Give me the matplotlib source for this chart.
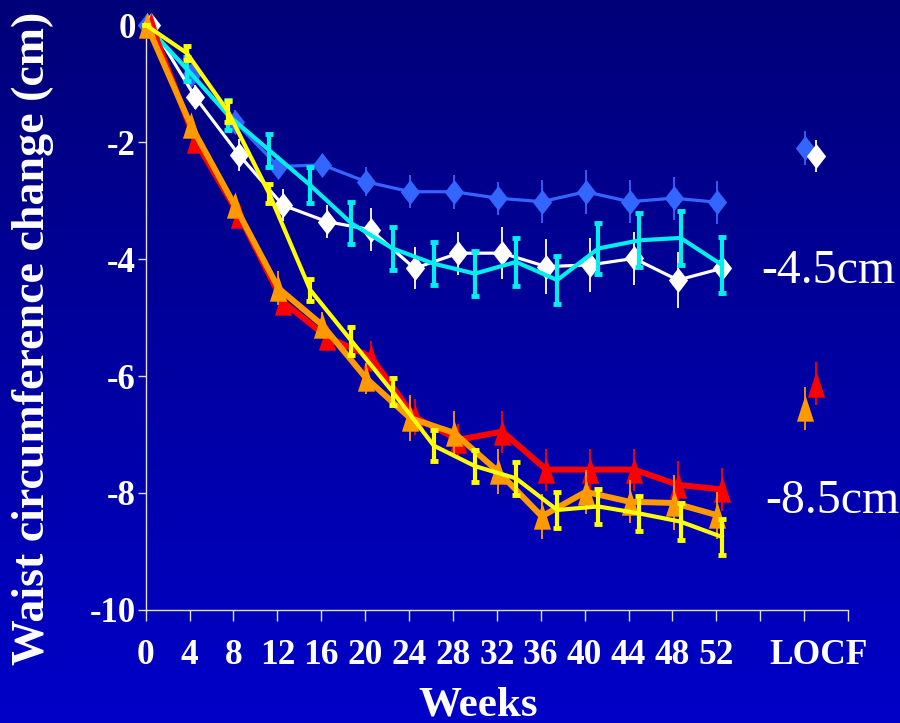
import numpy as np
import matplotlib

matplotlib.use("Agg")
import matplotlib.pyplot as plt
from matplotlib.path import Path
from matplotlib.colors import LinearSegmentedColormap

# visit weeks for the two main trials and the pooled comparison trial
weeks = [0, 4, 8, 12, 16, 20, 24, 28, 32, 36, 40, 44, 48, 52]
weeks_alt = [0, 3.75, 7.5, 11.25, 15, 18.75, 22.5, 26.25, 30, 33.75,
             37.5, 41.25, 45, 48.75, 52.5]

blue = [0, -0.85, -1.65, -2.42, -2.39, -2.68, -2.85, -2.85, -2.96, -3.02,
        -2.85, -3.02, -2.96, -3.03]
blue_err = [0, 0.15, 0.20, 0.17, 0.19, 0.25, 0.28, 0.29, 0.28, 0.37,
            0.38, 0.37, 0.37, 0.37]
white = [0, -1.23, -2.22, -3.08, -3.36, -3.50, -4.16, -3.90, -3.90, -4.13,
         -4.10, -3.99, -4.36, -4.16]
white_err = [0, 0.20, 0.27, 0.27, 0.28, 0.37, 0.36, 0.37, 0.45, 0.47,
             0.46, 0.46, 0.48, 0.48]
red = [0, -1.97, -3.25, -4.73, -5.33, -5.67, -6.70, -7.09, -6.95, -7.60,
       -7.60, -7.60, -7.86, -7.94]
red_err = [0, 0.15, 0.17, 0.16, 0.18, 0.26, 0.30, 0.27, 0.36, 0.36,
           0.36, 0.36, 0.40, 0.37]
orange = [0, -1.71, -3.08, -4.50, -5.13, -6.04, -6.72, -6.97, -7.63, -8.40,
          -7.98, -8.15, -8.17, -8.38]
orange_err = [0, 0.15, 0.18, 0.29, 0.22, 0.27, 0.39, 0.38, 0.38, 0.38,
              0.38, 0.37, 0.47, 0.40]
cyan = [0, -0.75, -1.54, -2.14, -2.74, -3.39, -3.82, -4.08, -4.25, -4.05,
        -4.36, -3.82, -3.68, -3.64, -4.10]
cyan_err = [0, 0.20, 0.26, 0.28, 0.31, 0.36, 0.36, 0.37, 0.38, 0.41,
            0.41, 0.44, 0.46, 0.46, 0.48]
yellow = [0, -0.48, -1.48, -2.88, -4.53, -5.40, -6.27, -7.19, -7.54, -7.75,
          -8.29, -8.23, -8.35, -8.49, -8.75]
yellow_err = [0, 0.12, 0.18, 0.17, 0.19, 0.24, 0.23, 0.26, 0.28, 0.28,
              0.30, 0.30, 0.30, 0.32, 0.31]

# last observation carried forward
locf_blue, locf_blue_err = -2.11, 0.29
locf_white, locf_white_err = -2.24, 0.28
locf_orange, locf_orange_err = -6.55, 0.37
locf_red, locf_red_err = -6.13, 0.37

tick_weeks = [0, 4, 8, 12, 16, 20, 24, 28, 32, 36, 40, 44, 48, 52, 56, 60, 64]
tick_labels = ["0", "4", "8", "12", "16", "20", "24", "28", "32", "36",
               "40", "44", "48", "52", "", "", ""]

plt.rcParams["font.family"] = ["Liberation Serif", "DejaVu Serif"]

DIAMOND = Path([(0, 1), (0.77, 0), (0, -1), (-0.77, 0), (0, 1)],
               [Path.MOVETO, Path.LINETO, Path.LINETO, Path.LINETO, Path.CLOSEPOLY])
TRIANGLE = Path([(0, 1), (0.65, -1), (-0.65, -1), (0, 1)],
                [Path.MOVETO, Path.LINETO, Path.LINETO, Path.CLOSEPOLY])

fig = plt.figure(figsize=(9, 7.23), dpi=100)

# vertical blue gradient background
bg = fig.add_axes([0, 0, 1, 1], zorder=-10)
cmap = LinearSegmentedColormap.from_list("bg", ["#000078", "#0000C8"])
bg.imshow(np.linspace(0, 1, 256).reshape(-1, 1), aspect="auto", cmap=cmap,
          extent=[0, 1, 0, 1])
bg.axis("off")

ax = fig.add_axes([0.1619, 0.1563, 0.7803, 0.8091])
ax.set_facecolor("none")

wk = np.array(weeks, dtype=float)


def thin_series(x, y, err, color, marker, ms, lw, z):
    ax.errorbar(x, y, yerr=err, color=color, ecolor=color, lw=lw,
                marker=marker, ms=ms, mew=0, elinewidth=1.3, capsize=6,
                capthick=1.3, clip_on=False, zorder=z)


def thick_series(x, y, err, color, z):
    ax.errorbar(x, y, yerr=err, color=color, ecolor=color, lw=3,
                elinewidth=3, capsize=2.8, capthick=3.5, clip_on=False,
                zorder=z)


thin_series(wk + 0.1, blue, blue_err, "#3366FF", DIAMOND, 18, 2.3, 3)
thin_series(wk + 0.5, white, white_err, "white", DIAMOND, 18, 2.3, 4)
thick_series(weeks_alt, cyan, cyan_err, "#00EEEE", 5)
thin_series(wk + 0.5, red, red_err, "#FF0000", TRIANGLE, 19, 4.3, 6)
thin_series(wk + 0.1, orange, orange_err, "#FF9900", TRIANGLE, 19, 4.3, 7)
thick_series(weeks_alt, yellow, yellow_err, "#FFFF00", 8)

thin_series([60.1], [locf_blue], [locf_blue_err], "#3366FF", DIAMOND, 18, 0, 3)
thin_series([61.1], [locf_white], [locf_white_err], "white", DIAMOND, 18, 0, 4)
thin_series([61.1], [locf_red], [locf_red_err], "#FF0000", TRIANGLE, 19, 0, 6)
thin_series([60.1], [locf_orange], [locf_orange_err], "#FF9900", TRIANGLE, 19, 0, 7)

ax.set_xlim(0, 64)
ax.set_ylim(-10, 0)
for side in ("top", "right"):
    ax.spines[side].set_visible(False)
for side in ("left", "bottom"):
    ax.spines[side].set_color("#E0E0F0")
    ax.spines[side].set_linewidth(1)

ax.set_yticks([0, -2, -4, -6, -8, -10], ["0", "-2", "-4", "-6", "-8", "-10"])
ax.set_xticks(tick_weeks, tick_labels)
ax.set_xticks([61.3], ["LOCF"], minor=True)
ax.tick_params(axis="y", direction="out", length=6, width=1, colors="#E0E0F0",
               labelcolor="white", labelsize=25, pad=1)
ax.tick_params(axis="x", which="major", direction="out", length=8, width=1,
               colors="#E0E0F0", labelcolor="white", labelsize=25.5, pad=13)
ax.tick_params(axis="x", which="minor", length=0, labelcolor="white",
               labelsize=25.5, pad=21)
for lab in ax.get_xticklabels() + ax.get_yticklabels() + ax.get_xticklabels(minor=True):
    lab.set_fontweight("bold")

ax.text(56.1, -4.41, "-4.5cm", color="white", fontsize=34.5, ha="left",
        va="baseline")
ax.text(56.5, -8.34, "-8.5cm", color="white", fontsize=34.5, ha="left",
        va="baseline")

fig.text(33 / 900, 1 - 338 / 723, "Waist circumference change (cm)",
         rotation=90, ha="center", va="center", color="white", fontsize=33,
         fontweight="bold")
fig.text(478 / 900, 1 - 705 / 723, "Weeks", ha="center", va="center",
         color="white", fontsize=31, fontweight="bold")

fig.savefig("out.png", dpi=100)
